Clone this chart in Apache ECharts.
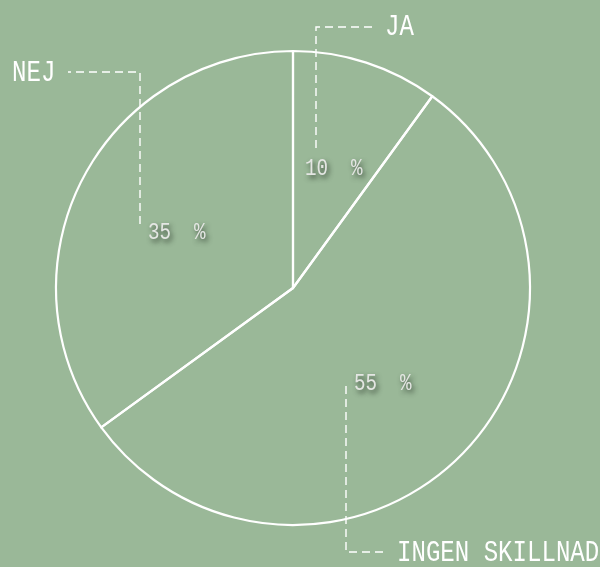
<!DOCTYPE html>
<html>
<head>
<meta charset="utf-8">
<script src="https://cdn.jsdelivr.net/npm/echarts@6/dist/echarts.min.js"></script>
<style>html,body{margin:0;padding:0;background:#9ab898;}#c{width:600px;height:567px;}</style>
</head>
<body>
<div id="c"></div>
<script>
// data
const categories = ['JA', 'INGEN SKILLNAD', 'NEJ'];
const values = [10, 55, 35];

// label layout (pixels): percent label anchor, name label anchor, leader line points
const pctPos = [[305, 169], [354, 384], [148, 233]];
const namePos = [[385, 27], [397, 553], [12, 73]];
const leaderPts = [
  [[316, 148], [316, 27], [372, 27]],
  [[346, 386], [346, 552], [385, 552]],
  [[140, 224], [140, 72], [68, 72]]
];

const pieData = categories.map((c, i) => ({ name: c, value: values[i] }));
const FONT = '"Liberation Mono", "DejaVu Sans Mono", monospace';

const graphics = [];
leaderPts.forEach(pts => graphics.push({
  type: 'polyline',
  silent: true,
  shape: { points: pts },
  style: { stroke: '#ffffff', lineWidth: 1.4, lineDash: [8, 5], fill: null }
}));
categories.forEach((c, i) => {
  graphics.push({
    type: 'text',
    silent: true,
    x: namePos[i][0], y: namePos[i][1],
    scaleX: 0.83,
    style: { text: c, font: '29px ' + FONT, fill: '#ffffff', align: 'left', verticalAlign: 'middle' }
  });
  graphics.push({
    type: 'text',
    silent: true,
    x: pctPos[i][0], y: pctPos[i][1],
    scaleX: 0.8,
    style: {
      text: values[i] + '  %', font: '24px ' + FONT, fill: '#e4e6e3',
      align: 'left', verticalAlign: 'middle',
      textShadowColor: 'rgba(30,40,30,0.8)', textShadowBlur: 5, textShadowOffsetX: 2, textShadowOffsetY: 3
    }
  });
});

const chart = echarts.init(document.getElementById('c'), null, { renderer: 'canvas' });
chart.setOption({
  backgroundColor: '#9ab898',
  animation: false,
  series: [
    {
      type: 'pie',
      center: [293, 288],
      radius: 237,
      startAngle: 90,
      clockwise: true,
      silent: true,
      emphasis: { disabled: true },
      data: pieData,
      itemStyle: { color: 'rgba(0,0,0,0)', borderColor: '#ffffff', borderWidth: 2.2 },
      label: { show: false },
      labelLine: { show: false }
    }
  ],
  graphic: graphics
});
</script>
</body>
</html>
